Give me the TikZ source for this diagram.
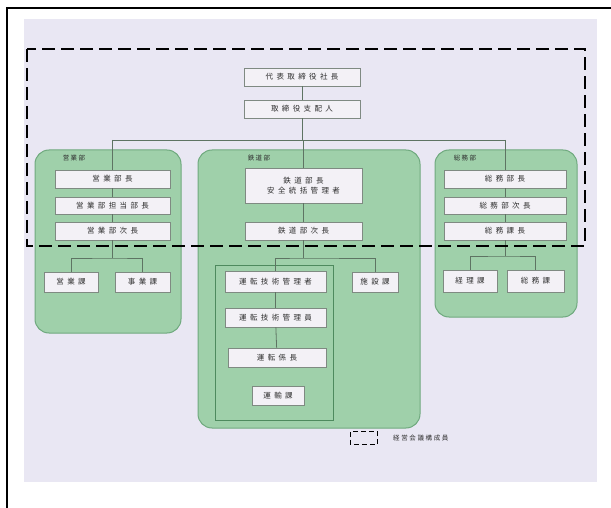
\documentclass[tikz,border=0pt]{standalone}
\usepackage{fontspec}
\newfontfamily\cjk{Noto Sans CJK JP}
\definecolor{bglav}{HTML}{E9E7F3}
\definecolor{deptgreen}{HTML}{9FD0AA}
\definecolor{deptedge}{HTML}{6FA97E}
\definecolor{inneredge}{HTML}{4E8A5E}
\definecolor{boxfill}{HTML}{F3F1F6}
\definecolor{boxedge}{HTML}{7F8A82}
\definecolor{linecol}{HTML}{5E7463}
\definecolor{txt}{HTML}{2E2E2E}
\tikzset{
  bx/.style={draw=boxedge, line width=0.8pt, fill=boxfill, inner sep=0pt, text=txt,
    font=\cjk\fontsize{7.5}{9.5}\selectfont\addfontfeature{LetterSpace=45}, align=center},
  dept/.style={draw=deptedge, line width=1pt, fill=deptgreen, rounded corners=14pt},
  deptlabel/.style={text=txt, inner sep=0pt, font=\cjk\fontsize{6.5}{8}\selectfont\addfontfeature{LetterSpace=20}},
  conn/.style={draw=linecol, line width=0.8pt},
}
\begin{document}
\begin{tikzpicture}[x=1pt,y=-1pt]
\useasboundingbox (0,0) rectangle (611,508);
% frame and background
\fill[bglav] (24,19) rectangle (597,482);
\draw[line width=1.6pt] (7,508) -- (7,8) -- (611,8);
% department areas
\draw[dept] (35,150) rectangle (181,333);
\draw[dept] (198,150) rectangle (420,428);
\draw[dept] (435,150) rectangle (577,317);
\draw[draw=inneredge, line width=1pt] (215,265) rectangle (333,420);
\node[deptlabel] (eigyo) at (74,158) {営業部};
\node[deptlabel] (tetsudo) at (259,158) {鉄道部};
\node[deptlabel] (somu) at (465,158) {総務部};
% coordinates
\coordinate (jn) at (302,140);
\coordinate (jL) at (112.5,140);
\coordinate (jC) at (303.5,140);
\coordinate (jR) at (505,140);
\coordinate (ej) at (112.5,258);
\coordinate (tj) at (303.5,258);
\coordinate (sj) at (505,256);
% boxes
\node[bx, minimum width=116pt, minimum height=18pt] (ceo) at (302,77) {代表取締役社長};
\node[bx, minimum width=116pt, minimum height=18pt] (sh) at (302,109) {取締役支配人};
\node[bx, minimum width=115pt, minimum height=18pt] (e1) at (112.5,179) {営業部長};
\node[bx, minimum width=115pt, minimum height=17pt] (e2) at (112.5,205.5) {営業部担当部長};
\node[bx, minimum width=115pt, minimum height=18pt] (e3) at (112.5,231) {営業部次長};
\node[bx, minimum width=54pt, minimum height=20pt] (es1) at (71,282) {営業課};
\node[bx, minimum width=55pt, minimum height=20pt] (es2) at (142.5,282) {事業課};
\node[bx, minimum width=117pt, minimum height=35pt] (t1) at (303.5,185.5) {鉄道部長\\[1pt]安全統括管理者};
\node[bx, minimum width=117pt, minimum height=18pt] (t2) at (303.5,231) {鉄道部次長};
\node[bx, minimum width=101pt, minimum height=21pt] (i1) at (275.5,281.5) {運転技術管理者};
\node[bx, minimum width=101pt, minimum height=19pt] (i2) at (275.5,317.5) {運転技術管理員};
\node[bx, minimum width=98pt, minimum height=19pt] (i3) at (277,357.5) {運転係長};
\node[bx, minimum width=52pt, minimum height=19pt] (i4) at (278,395.5) {運輸課};
\node[bx, minimum width=46pt, minimum height=20pt] (fs) at (375,282) {施設課};
\node[bx, minimum width=122pt, minimum height=18pt] (s1) at (505,179) {総務部長};
\node[bx, minimum width=122pt, minimum height=17pt] (s2) at (505,205.5) {総務部次長};
\node[bx, minimum width=122pt, minimum height=18pt] (s3) at (505,231) {総務課長};
\node[bx, minimum width=54pt, minimum height=22pt] (ss1) at (470,281) {経理課};
\node[bx, minimum width=57pt, minimum height=22pt] (ss2) at (535.5,281) {総務課};
% connectors
\path[conn] (ceo) -- (sh);
\path[conn] (sh) -- (jn);
\path[conn] (jL) -- (jR);
\path[conn] (jL) -- (e1);
\path[conn] (e1) -- (e2);
\path[conn] (e2) -- (e3);
\path[conn] (e3) -- (ej);
\path[conn] (es1) |- (ej) -| (es2);
\path[conn] (jC) -- (t1);
\path[conn] (t1) -- (t2);
\path[conn] (t2) -- (tj);
\path[conn] (i1) |- (tj) -| (fs);
\path[conn] (i1) -- (i2);
\path[conn] (i2) -- (i3);
\path[conn] (jR) -- (s1);
\path[conn] (s1) -- (s2);
\path[conn] (s2) -- (s3);
\path[conn] (s3) -- (sj);
\path[conn] (ss1) |- (sj) -| (ss2);
% dashed management group
\draw[line width=2.4pt, dash pattern=on 13pt off 6pt] (27,49) rectangle (585,246);
% legend
\node[minimum width=27pt, minimum height=12pt, inner sep=0pt] (legbox) at (364,438) {};
\draw[line width=1.2pt, dash pattern=on 5pt off 3pt] (legbox.north west) rectangle (legbox.south east);
\node[anchor=west, deptlabel, font=\cjk\fontsize{6.5}{8}\selectfont\addfontfeature{LetterSpace=25}] (legtxt) at (393,438) {経営会議構成員};
\end{tikzpicture}
\end{document}
